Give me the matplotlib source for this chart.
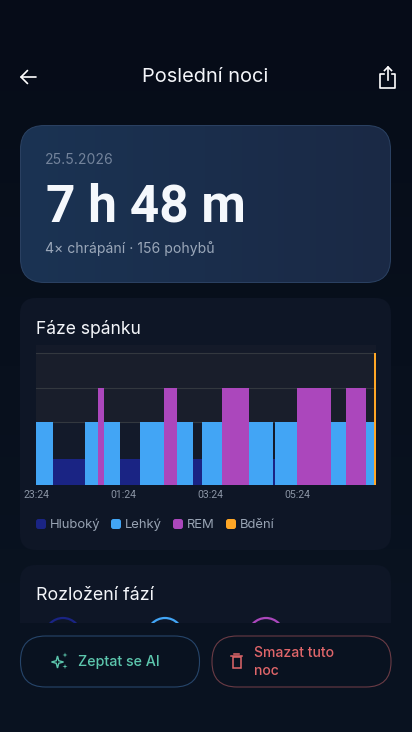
import numpy as np
import matplotlib
matplotlib.use("Agg")
import matplotlib.pyplot as plt
from matplotlib.patches import FancyBboxPatch, Circle, Rectangle, Polygon

# hypnogram, minutes since 23:24
stage_start = [0, 24, 68, 85, 94, 116, 143, 176, 194, 217, 229, 257, 293, 327, 330, 359, 406, 427, 455, 466]
stage_len = [24, 44, 17, 9, 22, 27, 33, 18, 23, 12, 28, 36, 34, 3, 29, 47, 21, 28, 11, 2]
stage_name = ["Lehký", "Hluboký", "Lehký", "REM", "Lehký", "Hluboký", "Lehký", "REM", "Lehký", "Hluboký",
              "Lehký", "REM", "Lehký", "Hluboký", "Lehký", "REM", "Lehký", "REM", "Lehký", "Bdění"]
level_names = ["Hluboký", "Lehký", "REM", "Bdění"]
level_values = [0.73, 1.8, 2.78, 3.8]
level_colors = ["#1a2484", "#42a5f5", "#ab47bc", "#ffa726"]
tick_pos = [0, 120, 240, 360]
tick_labels = ["23:24", "01:24", "03:24", "05:24"]

W, H = 412, 732
plt.rcParams["font.family"] = ["Inter", "DejaVu Sans"]
fig = plt.figure(figsize=(W / 100, H / 100), dpi=100)

ui = fig.add_axes([0, 0, 1, 1], zorder=1)
ui.set_xlim(0, W)
ui.set_ylim(H, 0)
ui.axis("off")


def px(size):
    return size * 0.72


def card(x, y, w, h, r, fc, ec="none", lw=0.8, z=2):
    p = FancyBboxPatch((x + r, y + r), w - 2 * r, h - 2 * r, boxstyle=f"round,pad={r},rounding_size={r}",
                       fc=fc, ec=ec, lw=lw, zorder=z)
    ui.add_patch(p)
    return p


# page background
page = np.linspace(0, 1, 64).reshape(-1, 1)
ui.imshow(page, extent=[0, W, H, 0], aspect="auto", zorder=0, vmin=0, vmax=1,
          cmap=matplotlib.colors.LinearSegmentedColormap.from_list("pg", ["#060c18", "#0a1422"]))
ui.set_xlim(0, W)
ui.set_ylim(H, 0)

# header
ui.plot([21, 36], [77, 77], color="white", lw=1.2, zorder=5, solid_capstyle="round")
ui.plot([27.5, 21, 27.5], [70.5, 77, 83.5], color="white", lw=1.2, zorder=5, solid_capstyle="round")
ui.text(205.5, 77.5, "Poslední noci", color="#f4f6fa", fontsize=px(20), ha="center", va="center", zorder=5)
ui.plot([384, 380.5, 380.5, 395.5, 395.5, 392], [74, 74, 87.5, 87.5, 74, 74], color="white", lw=1.2, zorder=5)
ui.plot([388, 388], [67, 80], color="white", lw=1.2, zorder=5)
ui.plot([384.5, 388, 391.5], [70.5, 67, 70.5], color="white", lw=1.2, zorder=5)

# hero card
hero = card(20.5, 125.5, 370, 157, 24, "none", ec="#2b4263", lw=0.7, z=3)
grad = np.linspace(0, 1, 128).reshape(1, -1)
im = ui.imshow(grad, extent=[20, 391, 283, 125], aspect="auto", zorder=2, vmin=0, vmax=1,
               cmap=matplotlib.colors.LinearSegmentedColormap.from_list("hero", ["#1b3353", "#1a2945"]))
im.set_clip_path(hero)
ui.set_xlim(0, W)
ui.set_ylim(H, 0)
ui.text(45, 160, "25.5.2026", color="#73839b", fontsize=px(14), va="center", zorder=5)
ui.text(46, 221.7, "7 h 48 m", color="#f5f8fc", fontsize=px(51.4), fontweight="bold", family=["Roboto"],
        va="baseline", zorder=5)
ui.text(45, 249, "4× chrápání · 156 pohybů", color="#9aa7b9", fontsize=px(14), va="center", zorder=5)

# chart card
card(20, 298, 371, 252, 16, "#0e1626")
ui.text(36, 329, "Fáze spánku", color="#f4f6fa", fontsize=px(17.5), va="center", zorder=5)

chart = fig.add_axes([36 / W, 1 - 484.7 / H, 339.6 / W, 139.7 / H], zorder=2)
chart.set_xlim(0, 468)
chart.set_ylim(0, 139.7 / 34.7)
chart.set_facecolor("#191e2b")
chart.axhspan(0, level_values[1], color="#131a2a", lw=0, zorder=0)
chart.axhspan(level_values[3], 139.7 / 34.7, color="#141a29", lw=0, zorder=0)
for v in level_values[1:]:
    chart.axhline(v, color="#33383f", lw=0.8, zorder=1)
colors = dict(zip(level_names, level_colors))
heights = dict(zip(level_names, level_values))
chart.bar(stage_start, [heights[s] for s in stage_name], width=stage_len, align="edge",
          color=[colors[s] for s in stage_name], lw=0, zorder=2)
chart.set_xticks(tick_pos)
chart.set_xticklabels(tick_labels, color="#8a94a4", fontsize=px(10.5), family=["Roboto"])
chart.set_yticks([])
chart.tick_params(axis="x", length=0, pad=4)
for s in chart.spines.values():
    s.set_visible(False)

# legend
legend_x = [36, 111, 173, 226]
for x, name, c in zip(legend_x, level_names, level_colors):
    card(x, 519, 10, 10, 2.5, c, z=4)
    ui.text(x + 14, 525, name, color="#98a3b3", fontsize=px(13), va="center", zorder=5)

# second card, cut off by the bottom bar
card(20, 565, 371, 100, 16, "#0e1626")
ui.text(36, 595, "Rozložení fází", color="#f4f6fa", fontsize=px(17.8), va="center", zorder=5)
for cx, c in zip([63, 165, 266], level_colors):
    ui.add_patch(Circle((cx, 636), 18, fc="none", ec=c, lw=1.6, zorder=3))
ui.add_patch(Rectangle((0, 623), W, 109, fc="#091220", ec="none", zorder=4))

# buttons
card(20.5, 636, 179, 51, 25, "none", ec="#26456a", lw=0.8, z=5)
card(212, 636, 179, 51, 25, "none", ec="#6a3b45", lw=0.8, z=5)
ui.text(78, 662, "Zeptat se AI", color="#5cc6ad", fontsize=px(14.3), fontweight="medium", va="center", zorder=6)
ui.text(254, 653, "Smazat tuto", color="#e0666a", fontsize=px(14), fontweight="medium", va="center", zorder=6)
ui.text(254, 671, "noc", color="#e0666a", fontsize=px(14), fontweight="medium", va="center", zorder=6)


def star(cx, cy, r):
    t = np.arange(8) * np.pi / 4
    rad = np.where(np.arange(8) % 2 == 0, r, r * 0.3)
    return Polygon(np.c_[cx + rad * np.sin(t), cy + rad * np.cos(t)], closed=True, zorder=6)


big = star(57.5, 662, 6)
big.set(fc="none", ec="#5cc6ad", lw=1)
ui.add_patch(big)
for cx, cy, r in [(65, 655, 2.6), (65, 666.5, 2.6)]:
    s = star(cx, cy, r)
    s.set(fc="#5cc6ad", ec="none")
    ui.add_patch(s)

ui.add_patch(Rectangle((233, 657), 8, 10.5, fc="none", ec="#e0666a", lw=1.1, zorder=6))
ui.plot([231.5, 242.5], [656, 656], color="#e0666a", lw=1.1, zorder=6)
ui.plot([234.5, 239.5], [654, 654], color="#e0666a", lw=1.1, zorder=6)

fig.savefig("out.png", dpi=100)
